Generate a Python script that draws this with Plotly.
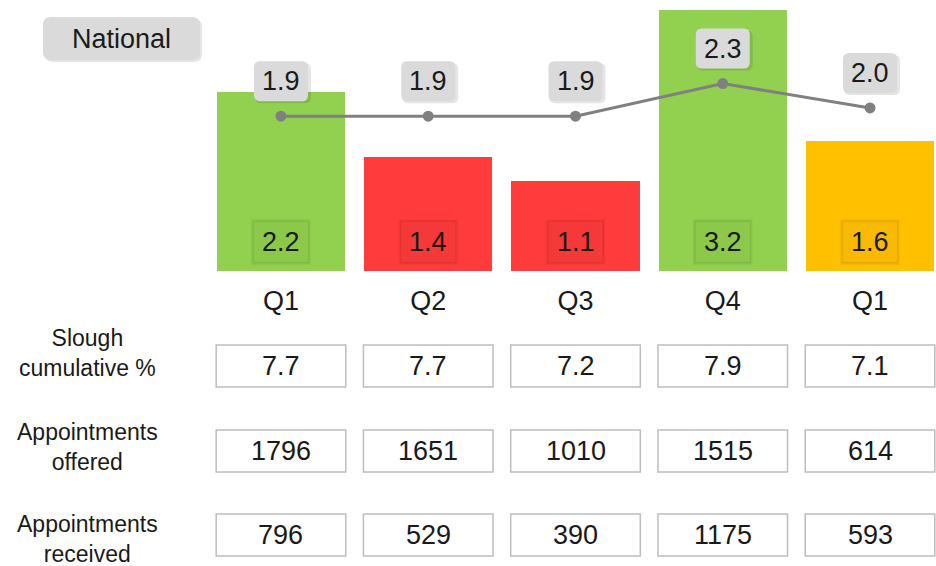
import plotly.graph_objects as go

# ---------------- data ----------------
quarters = ["Q1", "Q2", "Q3", "Q4", "Q1"]
slough_quarterly = [2.2, 1.4, 1.1, 3.2, 1.6]
bar_colors = ["#92D050", "#FF3B3B", "#FF3B3B", "#92D050", "#FFC000"]
label_colors = ["#8CC94B", "#F53838", "#F53838", "#8CC94B", "#F7BA00"]
national_values = [1.9, 1.9, 1.9, 2.3, 2.0]
slough_cumulative = [7.7, 7.7, 7.2, 7.9, 7.1]
appointments_offered = [1796, 1651, 1010, 1515, 614]
appointments_received = [796, 529, 390, 1175, 593]
row_labels = ["Slough<br>cumulative %", "Appointments<br>offered", "Appointments<br>received"]
national_label = "National"

# ---------------- styling ----------------
W, H = 936, 566
FONT = "Liberation Sans, Arial, sans-serif"
TXT = "#1A1A1A"
pos = list(range(len(quarters)))


def rrect(cx, cy, w, h, r):
    x0, x1 = cx - w / 2, cx + w / 2
    y0, y1 = cy - h / 2, cy + h / 2
    return (f"M{x0 + r},{y0} L{x1 - r},{y0} Q{x1},{y0} {x1},{y0 + r} "
            f"L{x1},{y1 - r} Q{x1},{y1} {x1 - r},{y1} L{x0 + r},{y1} "
            f"Q{x0},{y1} {x0},{y1 - r} L{x0},{y0 + r} Q{x0},{y0} {x0 + r},{y0} Z")


fig = go.Figure()
fig.add_trace(go.Bar(
    x=pos, y=slough_quarterly, width=0.87,
    marker=dict(color=bar_colors, line=dict(width=0)),
    hoverinfo="skip", showlegend=False))
fig.add_trace(go.Scatter(
    x=pos, y=national_values, mode="lines+markers",
    line=dict(color="#808080", width=3),
    marker=dict(color="#808080", size=11),
    hoverinfo="skip", showlegend=False))

shapes = []
annotations = []

# bar value labels (boxes near the base of each bar)
for i, v in enumerate(slough_quarterly):
    for grow, alpha in [(3, 0.04), (1.5, 0.07)]:
        shapes.append(dict(type="rect", xref="x", yref="y",
                           xsizemode="pixel", ysizemode="pixel",
                           xanchor=i, yanchor=0,
                           x0=-27 - grow, x1=27 + grow, y0=9 - grow, y1=49 + grow,
                           fillcolor=f"rgba(0,0,0,{alpha})", line=dict(width=0)))
    shapes.append(dict(type="rect", xref="x", yref="y",
                       xsizemode="pixel", ysizemode="pixel",
                       xanchor=i, yanchor=0,
                       x0=-27, x1=27, y0=9, y1=49,
                       fillcolor=label_colors[i], line=dict(width=0)))
    annotations.append(dict(x=i, y=0, xref="x", yref="y", yshift=29,
                            text=f"{v:.1f}", showarrow=False,
                            xanchor="center", yanchor="middle",
                            font=dict(family=FONT, size=27, color=TXT)))

# national line labels (rounded grey boxes)
for i, v in enumerate(national_values):
    shapes.append(dict(type="path", xref="x", yref="y",
                       xsizemode="pixel", ysizemode="pixel",
                       xanchor=i, yanchor=v,
                       path=rrect(2, 33, 56, 40, 6),
                       fillcolor="rgba(0,0,0,0.10)", line=dict(width=0)))
    shapes.append(dict(type="path", xref="x", yref="y",
                       xsizemode="pixel", ysizemode="pixel",
                       xanchor=i, yanchor=v,
                       path=rrect(0, 35, 54, 40, 6),
                       fillcolor="#DADADA", line=dict(width=0)))
    annotations.append(dict(x=i, y=v, xref="x", yref="y", yshift=35,
                            text=f"{v:.1f}", showarrow=False,
                            xanchor="center", yanchor="middle",
                            font=dict(family=FONT, size=27, color=TXT)))

# "National" tag
shapes.append(dict(type="path", xref="paper", yref="paper",
                   xsizemode="pixel", ysizemode="pixel", xanchor=0, yanchor=1,
                   path=rrect(123.5, -40.5, 157, 43, 8),
                   fillcolor="rgba(0,0,0,0.10)", line=dict(width=0)))
shapes.append(dict(type="path", xref="paper", yref="paper",
                   xsizemode="pixel", ysizemode="pixel", xanchor=0, yanchor=1,
                   path=rrect(121.5, -38.5, 157, 43, 8),
                   fillcolor="#DADADA", line=dict(width=0)))
annotations.append(dict(x=121.5 / W, y=1 - 39 / H, xref="paper", yref="paper",
                        text=national_label, showarrow=False,
                        xanchor="center", yanchor="middle",
                        font=dict(family=FONT, size=27, color=TXT)))

# table below the chart
rows = [slough_cumulative, appointments_offered, appointments_received]
row_centers = [366, 451, 535]
label_centers = [353, 447, 539]
for r, (vals, cy) in enumerate(zip(rows, row_centers)):
    annotations.append(dict(x=87 / W, y=1 - label_centers[r] / H,
                            xref="paper", yref="paper",
                            text=row_labels[r], showarrow=False, align="center",
                            xanchor="center", yanchor="middle",
                            font=dict(family=FONT, size=23, color=TXT)))
    for i, v in enumerate(vals):
        shapes.append(dict(type="rect", xref="x", yref="paper",
                           x0=i - 0.44, x1=i + 0.44,
                           y0=1 - (cy + 21) / H, y1=1 - (cy - 21) / H,
                           fillcolor="white", line=dict(color="#BDBDBD", width=1.5)))
        annotations.append(dict(x=i, y=1 - cy / H, xref="x", yref="paper",
                                text=str(v), showarrow=False,
                                xanchor="center", yanchor="middle",
                                font=dict(family=FONT, size=27, color=TXT)))

fig.update_layout(
    width=W, height=H,
    margin=dict(l=0, r=0, t=0, b=0),
    paper_bgcolor="white", plot_bgcolor="white",
    bargap=0,
    xaxis=dict(domain=[0, 1], range=[-1.908, 4.448],
               tickvals=pos, ticktext=quarters,
               anchor="free", position=1 - 282 / H,
               showgrid=False, zeroline=False, showline=False, ticks="",
               tickfont=dict(family=FONT, size=27, color=TXT),
               fixedrange=True),
    yaxis=dict(domain=[0, 1], range=[-3.62, 3.325], visible=False,
               fixedrange=True),
    shapes=shapes,
    annotations=annotations,
)

fig.write_html(
    "out.html",
    config={"displayModeBar": False},
    post_script="document.body.style.margin='0';document.body.style.overflow='hidden';",
)
